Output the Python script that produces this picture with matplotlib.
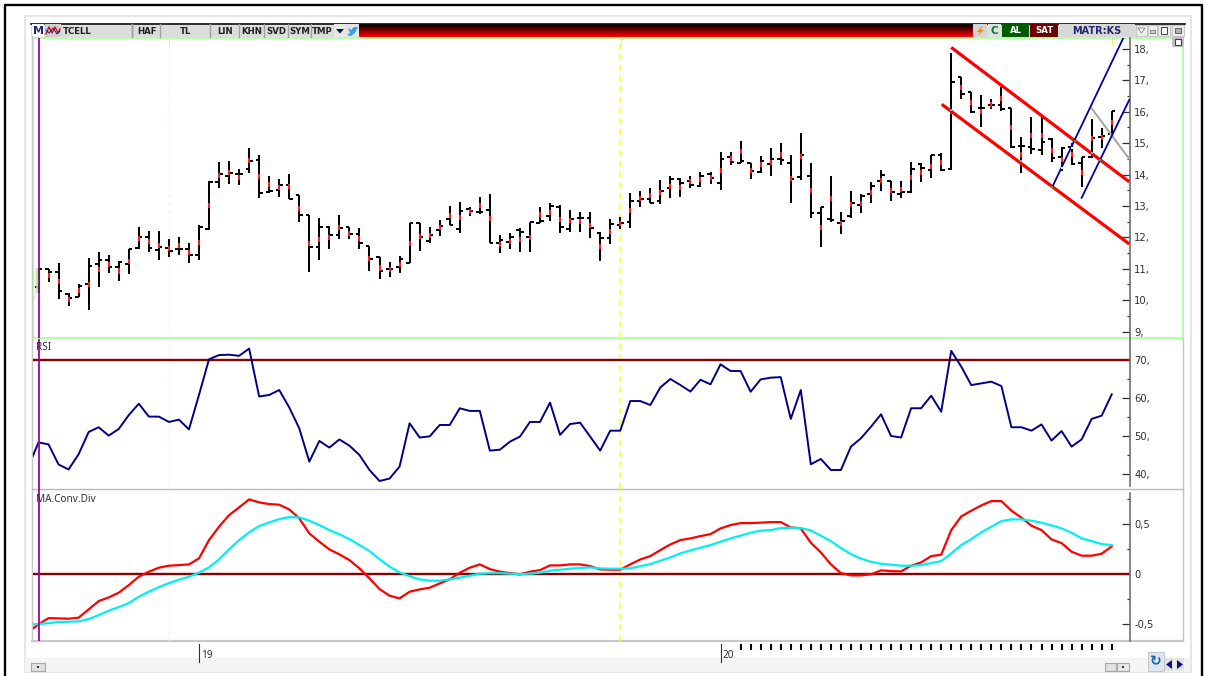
import matplotlib
matplotlib.use('Agg')
import matplotlib.pyplot as plt
from matplotlib.patches import Rectangle, Polygon
import numpy as np

# ohlc, oldest bar first
opens = [10.43,10.99,10.91,10.20,10.11,10.52,11.15,11.28,11.07,11.14,
         11.65,12.02,11.61,11.65,11.62,11.62,11.43,12.26,13.76,13.96,
         14.02,14.17,14.46,13.46,13.51,13.67,13.35,12.70,11.69,12.32,
         12.08,12.32,12.10,11.73,11.39,10.98,11.05,11.17,12.45,11.90,
         12.24,12.57,12.28,12.90,12.82,12.87,11.81,11.84,12.24,12.02,
         12.47,12.69,12.96,12.26,12.63,12.63,12.13,11.99,12.39,12.50,
         13.17,13.23,13.16,13.58,13.85,13.79,13.65,14.01,13.74,14.57,
         14.38,14.36,14.09,14.34,14.49,14.38,13.91,13.94,12.79,12.59,
         12.45,12.69,13.04,13.38,13.80,13.81,13.38,13.43,14.34,14.15,
         14.63,14.17,17.10,16.64,16.11,16.22,16.22,16.11,14.91,14.87,
         14.79,15.14,14.57,14.87,14.36,14.57,15.21,15.29]
highs = [11.01,10.99,11.17,10.24,10.52,11.33,11.55,11.43,11.24,11.62,
         12.32,12.21,12.20,11.96,12.02,11.83,12.39,13.81,14.39,14.43,
         14.17,14.84,14.62,13.97,13.85,14.01,13.35,12.70,12.61,12.36,
         12.71,12.32,12.29,11.73,11.39,11.23,11.41,12.45,12.45,12.32,
         12.55,13.01,13.12,12.96,13.28,13.37,12.08,12.13,12.29,12.50,
         12.98,13.08,13.03,12.87,12.82,12.80,12.18,12.57,12.64,13.40,
         13.49,13.56,13.83,13.96,13.88,13.97,14.09,14.09,14.73,14.73,
         15.08,14.38,14.59,14.84,15.00,14.63,15.32,14.36,12.98,13.96,
         12.80,13.47,13.38,13.78,14.15,13.81,13.81,14.39,14.36,14.63,
         14.68,17.87,17.12,16.64,16.54,16.40,16.80,16.11,15.21,15.85,
         15.87,15.16,14.87,15.00,14.57,15.76,15.48,16.03]
lows = [10.22,10.59,10.04,9.81,10.11,9.69,10.41,10.86,10.62,10.82,
        11.62,11.52,11.28,11.36,11.44,11.19,11.28,12.24,13.58,13.69,
        13.67,14.06,13.24,13.40,13.30,13.21,12.48,10.91,11.28,11.63,
        11.94,11.94,11.63,10.94,10.66,10.73,10.86,11.17,11.58,11.83,
        12.05,12.39,12.13,12.69,12.74,11.83,11.49,11.62,11.55,11.52,
        12.45,12.53,12.13,12.18,12.18,11.97,11.25,11.78,12.26,12.29,
        12.98,13.09,13.05,13.27,13.30,13.58,13.62,13.70,13.51,14.31,
        14.36,13.85,14.04,13.96,14.31,13.11,13.83,12.61,11.68,12.50,
        12.10,12.61,12.79,13.09,13.48,13.17,13.25,13.40,13.78,13.88,
        14.12,14.15,16.40,15.95,15.50,16.08,16.04,14.86,14.04,14.65,
        14.63,14.39,14.10,14.31,13.59,14.52,14.86,15.26]
closes = [10.99,10.91,10.28,10.08,10.46,11.09,11.28,11.05,11.22,11.62,
          12.02,11.67,11.68,11.56,11.64,11.43,12.34,13.77,14.02,14.06,
          14.02,14.43,13.42,13.48,13.67,13.22,12.72,11.69,12.32,12.08,
          12.31,12.10,11.81,11.30,10.93,10.98,11.30,12.45,12.00,12.08,
          12.37,12.39,12.85,12.84,12.82,11.83,11.91,12.02,12.16,12.50,
          12.52,13.00,12.32,12.57,12.63,12.31,11.97,12.42,12.45,13.17,
          13.21,13.09,13.48,13.85,13.74,13.66,13.97,13.88,14.51,14.39,
          14.44,14.12,14.43,14.49,14.47,13.85,14.61,12.79,12.96,12.56,
          12.53,13.11,13.31,13.63,13.99,13.43,13.43,14.17,14.20,14.63,
          14.15,16.96,16.57,15.98,16.13,16.22,16.08,14.87,14.91,14.80,
          15.03,14.54,14.84,14.33,14.55,15.18,15.24,16.03]

# indicators start one bar before the first visible bar
rsi = [42.0,48.3,47.8,42.5,41.2,45.2,51.05,52.3,50.1,51.85,55.5,
       58.5,55.1,55.1,53.7,54.3,51.75,60.8,70.2,71.3,71.4,
       71.1,73.0,60.4,60.8,62.1,57.5,52.0,43.25,48.7,46.95,
       49.1,47.45,45.0,41.05,38.15,38.8,41.95,53.35,49.6,49.9,
       52.9,52.9,57.3,56.6,56.6,46.15,46.4,48.5,49.85,53.7,
       53.7,58.8,50.3,53.15,53.5,49.85,46.15,51.4,51.4,59.2,
       59.2,58.15,62.8,65.0,63.4,61.7,64.8,63.6,68.85,67.1,
       67.1,61.65,64.9,65.35,65.5,54.5,62.1,42.55,43.95,41.05,
       41.05,47.2,49.4,52.45,55.7,50.0,49.6,57.3,57.3,60.6,
       56.4,72.4,68.25,63.4,63.85,64.3,63.15,52.3,52.3,51.4,
       53.05,48.8,51.3,47.2,49.1,54.5,55.35,60.97]
macd = [-.573,-.50,-.437,-.44,-.443,-.433,-.35,-.267,-.23,-.183,-.107,
        -.023,.027,.067,.087,.093,.10,.16,.343,.477,.593,
        .67,.75,.72,.703,.697,.65,.56,.41,.327,.25,
        .20,.143,.06,-.04,-.147,-.213,-.24,-.173,-.15,-.133,
        -.09,-.05,.017,.067,.10,.053,.027,.013,0,.027,
        .043,.09,.09,.10,.10,.083,.05,.047,.047,.10,
        .15,.183,.243,.30,.343,.36,.383,.403,.46,.493,
        .513,.513,.517,.523,.523,.47,.46,.317,.22,.10,
        .013,-.01,-.01,0,.04,.033,.03,.087,.12,.183,
        .197,.443,.58,.637,.69,.733,.733,.637,.567,.487,
        .443,.35,.313,.227,.187,.187,.207,.28]
signal = [-.50,-.497,-.487,-.477,-.473,-.47,-.447,-.407,-.363,-.327,-.287,
          -.223,-.173,-.127,-.087,-.053,-.023,.017,.07,.15,.25,
          .343,.42,.483,.52,.553,.573,.57,.537,.493,.443,
          .40,.353,.293,.233,.153,.077,.02,-.017,-.05,-.063,
          -.063,-.05,-.033,-.013,.007,.013,.013,.007,.003,.007,
          .017,.037,.047,.057,.063,.07,.06,.057,.057,.06,
          .083,.103,.137,.17,.21,.24,.267,.293,.327,.36,
          .387,.417,.437,.443,.463,.467,.463,.44,.387,.333,
          .263,.203,.157,.127,.107,.097,.087,.087,.093,.113,
          .133,.21,.293,.353,.42,.477,.533,.55,.55,.537,
          .517,.49,.46,.417,.36,.333,.303,.293]

price_ticks = [18,17,16,15,14,13,12,11,10,9]
price_labels = ['18,','17,','16,','15,','14,','13,','12,','11,','10,','9,']
rsi_ticks = [70,60,50,40]
rsi_labels = ['70,','60,','50,','40,']
macd_ticks = [0.5,0,-0.5]
macd_labels = ['0,5','0','-0,5']

# trend lines as (bar index, price) pairs
chan_top = ([91.0,108.75],[18.05,13.77])
chan_bot = ([90.05,108.75],[16.24,11.79])
blue_a = ([101.08,108.75],[13.61,18.75])
blue_b = ([104.0,108.75],[13.26,16.38])
grey_line = ([105.0,108.75],[16.11,14.50])
cyan_nodes = ([91.0,98.0,105.0],[16.07,14.42,14.68])
green_nodes = ([101.08,103.3,105.8],[13.61,15.07,14.45])
yellow_nodes = ([102.0,103.0],[14.2,14.85])

date_marks = [13,58]
year_idx = [16,68]
year_labels = ['19','20']
day_ticks = list(range(70,108))
buttons = [('HAF',133,160),('TL',161,210),('LIN',211,239),('KHN',240,263),
           ('SVD',265,288),('SYM',289,311),('TMP',312,333)]

W, H = 1212, 676
X0, DX = 38.5, 10.03
BTN = {'fontsize': 6.2, 'fontweight': 'bold', 'family': 'DejaVu Sans', 'va': 'center', 'zorder': 4}


def px(i):
    return X0 + DX * i


def panel(top, bottom, ylim):
    ax = fig.add_axes([33 / W, 1 - bottom / H, (1130 - 33) / W, (bottom - top) / H], zorder=2)
    ax.set_facecolor('none')
    ax.set_xlim((33 - X0) / DX, (1130 - X0) / DX)
    ax.set_ylim(*ylim)
    for s in ['top', 'left', 'bottom']:
        ax.spines[s].set_visible(False)
    ax.spines['right'].set_color('#707070')
    ax.spines['right'].set_linewidth(1.2)
    ax.set_xticks([])
    ax.yaxis.tick_right()
    ax.tick_params(axis='y', which='major', direction='in', length=5.5, width=0.9, color='#303030',
                   labelsize=7.2, labelcolor='#303030', pad=3)
    ax.tick_params(axis='y', which='minor', direction='in', length=2.5, width=0.9, color='#303030')
    for m, c, w in zip(date_marks, ['#ffff70', '#ffff20'], [0.8, 1.1]):
        ax.axvline(m, color=c, lw=w, ls=(0, (4, 3)), zorder=1)
    ax.axvline(0, color='#a000a8', lw=1.3, zorder=4)
    return ax


def box(x0, y0, x1, y1, fc, ec='none', lw=0.8, z=2):
    bg.add_patch(Rectangle((x0, y0), x1 - x0, y1 - y0, fc=fc, ec=ec, lw=lw, zorder=z))


fig = plt.figure(figsize=(W / 100, H / 100), dpi=100, facecolor='white')
bg = fig.add_axes([0, 0, 1, 1], zorder=0)
bg.set_xlim(0, W)
bg.set_ylim(H, 0)
bg.axis('off')

# outer frame and window
bg.plot([4.5, 4.5, 1202, 1202], [H, 4.5, 4.5, H], color='black', lw=1.7, zorder=1)
box(24.5, 15.5, 1190.5, 672, 'white', '#e2e2e2', 1.2, z=1)
box(25, 658, 1190, 671.5, '#f4f4f4', z=1)

# toolbar
box(31, 23, 1185, 37, '#dcdcdc')
bg.plot([31, 1185], [23.5, 23.5], color='#101010', lw=1.2, zorder=3)
grad = np.linspace(0, 1, 14).reshape(-1, 1)
bg.imshow(np.dstack([grad, np.zeros_like(grad), np.zeros_like(grad)]), extent=(359, 973, 37, 24),
          aspect='auto', zorder=2)
bg.set_xlim(0, W)
bg.set_ylim(H, 0)
box(32, 24, 44, 37, 'white', z=3)
bg.text(38, 31, 'M', color='#26266e', fontsize=8, fontweight='bold', ha='center', va='center', zorder=4)
box(45, 24, 61, 37, '#cfcfcf', z=3)
bg.plot([46, 49, 52, 55, 58, 60], [34, 27, 33, 27, 33, 29], color='#d01010', lw=1, zorder=4)
bg.plot([46, 49, 53, 57, 60], [30, 33, 28, 34, 31], color='#202090', lw=0.7, zorder=4)
bg.text(63, 31, 'TCELL', color='#202020', **BTN)
bg.plot([131.5, 131.5], [24, 37], color='#a0a0a0', lw=1, zorder=4)
for name, x0, x1 in buttons:
    bg.plot([x0 - 1, x0 - 1], [24, 37], color='#a0a0a0', lw=1, zorder=4)
    bg.text((x0 + x1) / 2, 31, name, color='#202020', ha='center', **BTN)
box(334, 24, 346, 37, '#e8e8e8', z=3)
bg.add_patch(Polygon([[336, 29], [344, 29], [340, 33.5]], fc='#101050', zorder=4))
box(346, 24, 359, 37, '#e4e4e4', z=3)
bg.add_patch(Polygon([[348, 28], [351, 30], [354, 27], [358, 27], [355, 33], [351, 36], [347, 35], [350, 33]],
                     fc='#38a0dc', zorder=4))
box(973, 24, 987, 37, '#d4d4d4', z=3)
bg.add_patch(Polygon([[982, 26], [977, 32], [980, 32], [977, 36], [984, 30], [981, 30]], fc='#e89010', zorder=4))
box(988, 24, 1001, 37, '#d8e4dc', z=3)
bg.text(994.5, 30.5, 'C', color='#107040', fontsize=7.5, fontweight='bold', ha='center', va='center', zorder=4)
box(1002, 24, 1029, 37, '#005c00', z=3)
bg.text(1015.5, 30.5, 'AL', color='white', ha='center', **BTN)
box(1030, 24, 1058, 37, '#6c0000', z=3)
bg.text(1044, 30.5, 'SAT', color='white', ha='center', **BTN)
box(1059, 24, 1135, 37, '#d8d8d8', z=3)
bg.text(1097, 30.5, 'MATR:KS', color='#26266e', fontsize=7, fontweight='bold', family='DejaVu Sans',
        ha='center', va='center', zorder=4)
for x0, x1 in [(1136, 1147), (1148, 1157), (1158, 1170), (1172, 1184)]:
    box(x0, 25, x1, 36, '#ececec', '#c0c0c0', 0.6, z=3)
bg.add_patch(Polygon([[1138, 28], [1145, 28], [1141.5, 33]], fc='white', ec='#808080', lw=0.6, zorder=4))
box(1150, 30, 1155, 33, '#d0d0d0', '#606060', 0.5, z=4)
box(1161, 27, 1167, 34, 'white', '#404040', 0.7, z=4)
box(1175, 28, 1181, 33, '#b0b0b0', '#606060', 0.7, z=4)
box(1172, 37, 1184, 47, '#c0c0c0', z=3)
box(1175, 39, 1181, 45, 'white', '#404040', 0.8, z=4)

# panel frames
box(33, 38, 1183, 338, 'white', '#b4ffa8', 1.4)
bg.plot([1183, 1183], [338, 641], color='#c4c4c4', lw=1, zorder=3)
bg.plot([31.5, 31.5], [36, 641], color='#c8c8c8', lw=1, zorder=3)
bg.plot([31.5, 1183], [489, 489], color='#b8b8b8', lw=1, zorder=3)
bg.plot([31.5, 1183], [641, 641], color='#c8c8c8', lw=1.6, zorder=3)
box(34, 268, 36, 300, '#e4ffe0', z=2)

# price panel
ax1 = panel(38, 338, (8.796, 18.35))
ax1.set_yticks(price_ticks)
ax1.set_yticklabels(price_labels)
ax1.set_yticks(np.array(price_ticks[:-1]) - 0.5, minor=True)
idx = np.arange(len(closes))
o, h, l, c = map(np.array, (opens, highs, lows, closes))
ax1.vlines(idx, l, h, color='#000000', lw=1.45, zorder=3)
ax1.hlines(o, idx - 0.36, idx, color='#000000', lw=1.45, zorder=3)
ax1.hlines(c, idx, idx + 0.36, color='#000000', lw=1.45, zorder=3)
mid = (h + l) / 2
ax1.vlines(idx, mid - 0.08, mid + 0.08, color='#ff1818', lw=1.45, zorder=3.5)
ax1.vlines(-0.1, l[0], h[0], color='#90ff70', lw=1.2, zorder=5)
ax1.plot(*chan_top, color='#ff0000', lw=2.3, solid_capstyle='butt', zorder=5)
ax1.plot(*chan_bot, color='#ff0000', lw=2.3, solid_capstyle='butt', zorder=5)
ax1.plot(*blue_a, color='#0000a0', lw=1.3, zorder=5)
ax1.plot(*blue_b, color='#0000a0', lw=1.3, zorder=5)
ax1.plot(*grey_line, color='#a8a8a8', lw=1.5, zorder=4.5)
ax1.scatter(*cyan_nodes, s=4, color='#20d0d0', marker='s', zorder=6, linewidths=0)
ax1.scatter(*green_nodes, s=4, color='#10c040', marker='s', zorder=6, linewidths=0)
ax1.scatter(*yellow_nodes, s=4, color='#ffff40', marker='s', zorder=6, linewidths=0)
for m in date_marks + [107]:
    ax1.text(m, 18.16, 'T', color='#ffe840', fontsize=6, ha='center', va='center', zorder=2)

# rsi panel
ax2 = panel(339, 489, (36.05, 75.53))
ax2.set_yticks(rsi_ticks)
ax2.set_yticklabels(rsi_labels)
ax2.set_yticks([65, 55, 45], minor=True)
ax2.spines['right'].set_bounds(36.8, 75.53)
ind_idx = np.arange(-1, len(closes))
ax2.axhline(70, color='#f0c0c0', lw=2.6, zorder=2)
ax2.axhline(70, color='#7c0000', lw=1.4, zorder=2.1)
ax2.plot(ind_idx, rsi, color='#000080', lw=1.4, zorder=3)
ax2.text(0.003, 0.94, 'RSI', transform=ax2.transAxes, color='#303030', fontsize=7.2, family='Noto Sans',
         va='center', zorder=5)

# macd panel
ax3 = panel(489, 641, (-0.666, 0.854))
ax3.set_yticks(macd_ticks)
ax3.set_yticklabels(macd_labels)
ax3.set_yticks([0.75, 0.25, -0.25], minor=True)
ax3.spines['right'].set_bounds(-0.666, 0.815)
ax3.axhline(0, color='#f0c0c0', lw=2.6, zorder=2)
ax3.axhline(0, color='#7c0000', lw=1.4, zorder=2.1)
ax3.plot(ind_idx, macd, color='#ff0000', lw=1.6, zorder=3)
ax3.plot(ind_idx, signal, color='#00f0f0', lw=1.6, zorder=3.1)
ax3.text(0.003, 0.934, 'MA.Conv.Div', transform=ax3.transAxes, color='#303030', fontsize=7.2,
         family='Noto Sans', va='center', zorder=5)

# date strip
for i, lab in zip(year_idx, year_labels):
    bg.plot([px(i), px(i)], [644, 662], color='#303030', lw=0.8, zorder=3)
    bg.text(px(i) + 2, 656, lab, color='#303030', fontsize=7.2, family='Noto Sans', va='center', zorder=3)
bg.vlines([px(i) for i in day_ticks], 644, 650, color='#000000', lw=1.5, zorder=3)

# scrollbar and nav buttons
box(31, 663, 45, 670.5, '#e0e0e0', '#a8a8a8', 0.8, z=3)
box(37, 666, 39, 668, '#303030', z=4)
box(1105, 663, 1116, 670.5, '#e0e0e0', '#a8a8a8', 0.8, z=3)
box(1117, 663, 1129, 670.5, '#e8e8e8', '#a8a8a8', 0.8, z=3)
box(1122, 666, 1124, 668, '#303030', z=4)
box(1148, 652, 1164, 671, '#dfe6ee', '#c8c8c8', 0.8, z=3)
bg.text(1156, 661, '\u21bb', color='#1860b0', fontsize=10, fontweight='bold', ha='center', va='center', zorder=4)
box(1165, 658, 1174, 671, '#e4e4e4', z=3)
box(1175, 658, 1184, 671, '#e4e4e4', z=3)
bg.add_patch(Polygon([[1172, 660], [1172, 669], [1166, 664.5]], fc='#10108c', zorder=4))
bg.add_patch(Polygon([[1177, 660], [1177, 669], [1183, 664.5]], fc='#10108c', zorder=4))

fig.savefig('out.png', dpi=100)
